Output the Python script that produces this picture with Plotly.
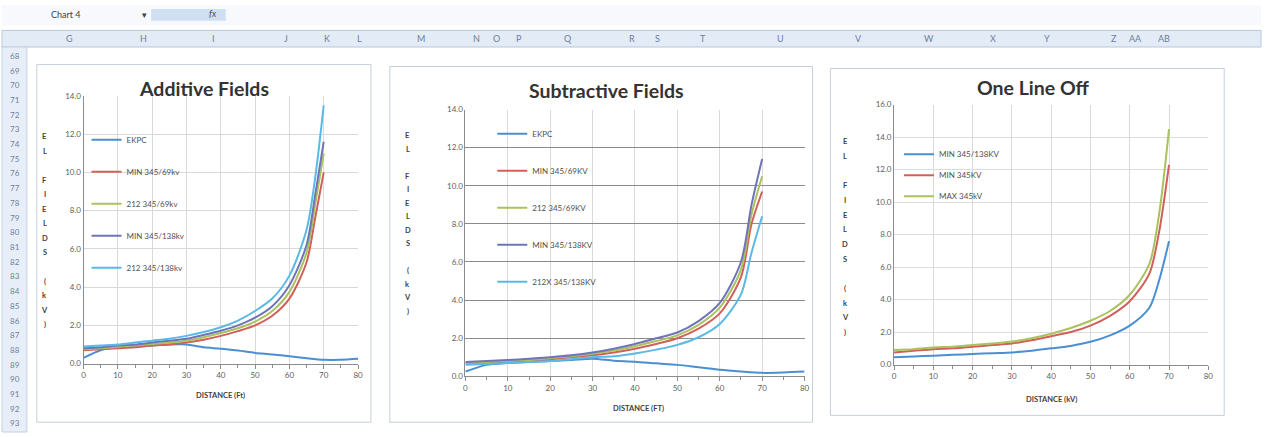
import plotly.graph_objects as go

# ---------------- data ----------------
X_MAIN = [0, 5, 10, 15, 20, 25, 30, 35, 40, 45, 50, 55, 60, 65, 67.5, 70]
X_EKPC = [0, 5, 10, 15, 20, 25, 30, 35, 40, 45, 50, 55, 60, 65, 70, 75, 80]

# Additive Fields
add_names = ["EKPC", "MIN 345/69kv", "212 345/69kv", "MIN 345/138kv", "212 345/138kv"]
add_ekpc = [0.3, 0.7, 0.85, 0.9, 0.95, 1.0, 1.0, 0.85, 0.78, 0.68, 0.56, 0.48, 0.38, 0.28, 0.2, 0.2, 0.25]
add_min69 = [0.7, 0.75, 0.8, 0.85, 0.95, 1.0, 1.1, 1.25, 1.45, 1.7, 2.0, 2.5, 3.4, 5.3, 7.6, 10.0]
add_212_69 = [0.75, 0.8, 0.88, 0.95, 1.02, 1.1, 1.2, 1.38, 1.6, 1.85, 2.2, 2.75, 3.75, 5.8, 8.3, 11.0]
add_min138 = [0.8, 0.85, 0.95, 1.0, 1.1, 1.2, 1.3, 1.5, 1.72, 2.0, 2.4, 3.0, 4.1, 6.2, 8.8, 11.6]
add_212_138 = [0.9, 0.95, 1.0, 1.1, 1.2, 1.3, 1.45, 1.65, 1.9, 2.25, 2.75, 3.4, 4.6, 7.0, 9.7, 13.5]

# Subtractive Fields
sub_names = ["EKPC", "MIN 345/69KV", "212 345/69KV", "MIN 345/138KV", "212X 345/138KV"]
sub_ekpc = [0.25, 0.6, 0.7, 0.75, 0.8, 0.85, 0.92, 0.82, 0.77, 0.68, 0.6, 0.47, 0.34, 0.25, 0.18, 0.2, 0.25]
sub_min69 = [0.7, 0.72, 0.78, 0.82, 0.9, 1.0, 1.1, 1.25, 1.45, 1.7, 2.0, 2.5, 3.3, 5.2, 8.0, 9.7]
sub_212_69 = [0.7, 0.75, 0.8, 0.85, 0.95, 1.05, 1.18, 1.35, 1.58, 1.85, 2.15, 2.7, 3.6, 5.6, 8.5, 10.5]
sub_min138 = [0.75, 0.8, 0.85, 0.92, 1.0, 1.1, 1.25, 1.45, 1.7, 2.0, 2.3, 2.9, 3.85, 6.0, 9.0, 11.4]
sub_212x138 = [0.6, 0.65, 0.7, 0.75, 0.8, 0.9, 1.0, 1.05, 1.2, 1.4, 1.65, 2.05, 2.75, 4.3, 6.5, 8.4]

# One Line Off
one_names = ["MIN 345/138KV", "MIN 345KV", "MAX 345kV"]
one_min138 = [0.45, 0.5, 0.55, 0.6, 0.65, 0.7, 0.75, 0.85, 1.0, 1.15, 1.4, 1.8, 2.4, 3.5, 5.2, 7.6]
one_min345 = [0.75, 0.85, 0.95, 1.0, 1.1, 1.2, 1.3, 1.5, 1.75, 2.0, 2.4, 3.0, 3.9, 5.6, 8.2, 12.3]
one_max345 = [0.9, 0.95, 1.05, 1.1, 1.2, 1.3, 1.42, 1.62, 1.9, 2.25, 2.7, 3.3, 4.3, 6.2, 9.3, 14.5]

titles = ["Additive Fields", "Subtractive Fields", "One Line Off"]
x_titles = ["DISTANCE (Ft)", "DISTANCE (FT)", "DISTANCE (kV)"]
y_title = "EL FIELDS (kV)"
y_ranges = [[0, 14], [0, 14], [0, 16]]
x_ticks = [0, 10, 20, 30, 40, 50, 60, 70, 80]

row_labels = [str(n) for n in range(68, 94)]
col_labels = ["G", "H", "I", "J", "K", "L", "M", "N", "O", "P", "Q", "R", "S", "T",
              "U", "V", "W", "X", "Y", "Z", "AA", "AB"]

# ---------------- styling ----------------
W, H = 1266, 437
C_BLUE = "#4a8fd2"
C_RED = "#d0605a"
C_GREEN = "#a9c25e"
C_PURPLE = "#6f74b8"
C_AQUA = "#5ab9e6"
FONT = "Lato"


def px_x(p):
    return p / W


def px_y(p):
    return 1 - p / H


fig = go.Figure()

series = [
    (1, X_EKPC, add_ekpc, add_names[0], C_BLUE),
    (1, X_MAIN, add_min69, add_names[1], C_RED),
    (1, X_MAIN, add_212_69, add_names[2], C_GREEN),
    (1, X_MAIN, add_min138, add_names[3], C_PURPLE),
    (1, X_MAIN, add_212_138, add_names[4], C_AQUA),
    (2, X_EKPC, sub_ekpc, sub_names[0], C_BLUE),
    (2, X_MAIN, sub_min69, sub_names[1], C_RED),
    (2, X_MAIN, sub_212_69, sub_names[2], C_GREEN),
    (2, X_MAIN, sub_min138, sub_names[3], C_PURPLE),
    (2, X_MAIN, sub_212x138, sub_names[4], C_AQUA),
    (3, X_MAIN, one_min138, one_names[0], C_BLUE),
    (3, X_MAIN, one_min345, one_names[1], C_RED),
    (3, X_MAIN, one_max345, one_names[2], C_GREEN),
]

for i, (ax, xs, ys, name, col) in enumerate(series):
    sfx = "" if ax == 1 else str(ax)
    fig.add_trace(go.Scatter(
        x=xs, y=ys, name=name, mode="lines",
        line=dict(color=col, width=2, shape="spline", smoothing=0.8),
        xaxis="x" + sfx, yaxis="y" + sfx,
        legend="legend" + sfx, legendgroup="g%d" % i,
    ))

plot_px = [(82, 358, 93, 367), (466, 807, 107, 380), (897, 1213, 102, 368)]
panel_px = [(35, 371, 61, 427), (390, 815, 63, 427), (833, 1229, 65, 420)]
title_pos = [(203, 85), (608, 87), (1037, 84)]
xtitle_pos = [(220, 400), (640, 413), (1055, 404)]
ylet_pos = [(43, 135, 14.8), (408, 134, 13.8), (848, 140, 15.0)]
legend_pos = [(85, 123, 13), (493, 117, 18), (902, 138, 2)]
hgrid = ["#d9d9d9", "#8a8a8a", "#dcdcdc"]

layout = dict(
    width=W, height=H, margin=dict(l=0, r=0, t=0, b=0),
    paper_bgcolor="white", plot_bgcolor="white",
    font=dict(family=FONT, color="#404040"),
    showlegend=True,
)

for k in range(3):
    sfx = "" if k == 0 else str(k + 1)
    l, r, t, b = plot_px[k]
    layout["xaxis" + sfx] = dict(
        domain=[px_x(l), px_x(r)], range=[0, 80], tickvals=x_ticks,
        anchor="y" + sfx, showgrid=True, gridcolor="#dadada", gridwidth=1,
        zeroline=False, showline=True, linecolor="#8c8c8c", linewidth=1,
        ticks="outside", ticklen=4, tickcolor="#8c8c8c",
        minor=dict(dtick=5, ticks="outside", ticklen=3, tickcolor="#8c8c8c", showgrid=False),
        tickfont=dict(size=8, color="#606060", family=FONT),
        fixedrange=True,
    )
    layout["yaxis" + sfx] = dict(
        domain=[px_y(b), px_y(t)], range=y_ranges[k], dtick=2, tickformat=".1f",
        anchor="x" + sfx, showgrid=True, gridcolor=hgrid[k], gridwidth=1,
        zeroline=False, showline=True, linecolor="#8c8c8c", linewidth=1,
        ticks="", tickfont=dict(size=8, color="#606060", family=FONT),
        fixedrange=True,
    )
    lx, ly, gap = legend_pos[k]
    layout["legend" + sfx] = dict(
        x=px_x(lx), y=px_y(ly), xanchor="left", yanchor="top",
        bgcolor="rgba(0,0,0,0)", borderwidth=0, tracegroupgap=gap,
        font=dict(size=8, color="#505050", family=FONT), itemwidth=30,
    )

shapes = []
annotations = []


def note(text, x, y, size, color, **kw):
    annotations.append(dict(text=text, x=px_x(x), y=px_y(y), xref="paper", yref="paper",
                            xanchor="center", yanchor="middle", showarrow=False,
                            font=dict(size=size, color=color, family=FONT), **kw))


# spreadsheet chrome
shapes.append(dict(type="rect", xref="paper", yref="paper", x0=0, x1=1,
                   y0=px_y(21), y1=1, fillcolor="#f7f9fc", line=dict(width=0), layer="below"))
shapes.append(dict(type="rect", xref="paper", yref="paper", x0=px_x(150), x1=px_x(225),
                   y0=px_y(16), y1=px_y(4), fillcolor="#cfe0f3", line=dict(width=0), layer="below"))
shapes.append(dict(type="rect", xref="paper", yref="paper", x0=0, x1=1,
                   y0=px_y(43), y1=px_y(26), fillcolor="#e3ebf6",
                   line=dict(color="#b9c8dc", width=1), layer="below"))
shapes.append(dict(type="rect", xref="paper", yref="paper", x0=0, x1=px_x(25),
                   y0=0, y1=px_y(43), fillcolor="#e8eef7",
                   line=dict(color="#c4d1e2", width=1), layer="below"))
note("Chart 4", 64, 10, 9, "#404040")
note("▾", 143, 10, 9, "#404040")
note("<i>fx</i>", 212, 9, 9, "#505050")

col_x = [68, 142, 213, 286, 327, 359, 421, 477, 497, 520, 569, 634, 659, 705,
         783, 861, 932, 997, 1051, 1118, 1140, 1168]
for lab, cx in zip(col_labels, col_x):
    note(lab, cx, 34, 9, "#6c7f9c")
for i, lab in enumerate(row_labels):
    note(lab, 13, 52 + i * 15.05, 8, "#6c7f9c")

for k in range(3):
    x0, x1, y0, y1 = panel_px[k]
    shapes.append(dict(type="rect", xref="paper", yref="paper",
                       x0=px_x(x0), x1=px_x(x1), y0=px_y(y1), y1=px_y(y0),
                       fillcolor="white", line=dict(color="#c6ced8", width=1), layer="below"))
    tx, ty = title_pos[k]
    note("<b>%s</b>" % titles[k], tx, ty, 19.5, "#333333")
    ax_, ay_ = xtitle_pos[k]
    note("<b>%s</b>" % x_titles[k], ax_, ay_, 7.5, "#404040")
    yx, yy, step = ylet_pos[k]
    for j, ch in enumerate(y_title):
        if ch == " ":
            continue
        note("<b>%s</b>" % ch, yx, yy + j * step, 7.5, "#404040")

layout["shapes"] = shapes
layout["annotations"] = annotations
fig.update_layout(**layout)
fig.write_html("out.html")
